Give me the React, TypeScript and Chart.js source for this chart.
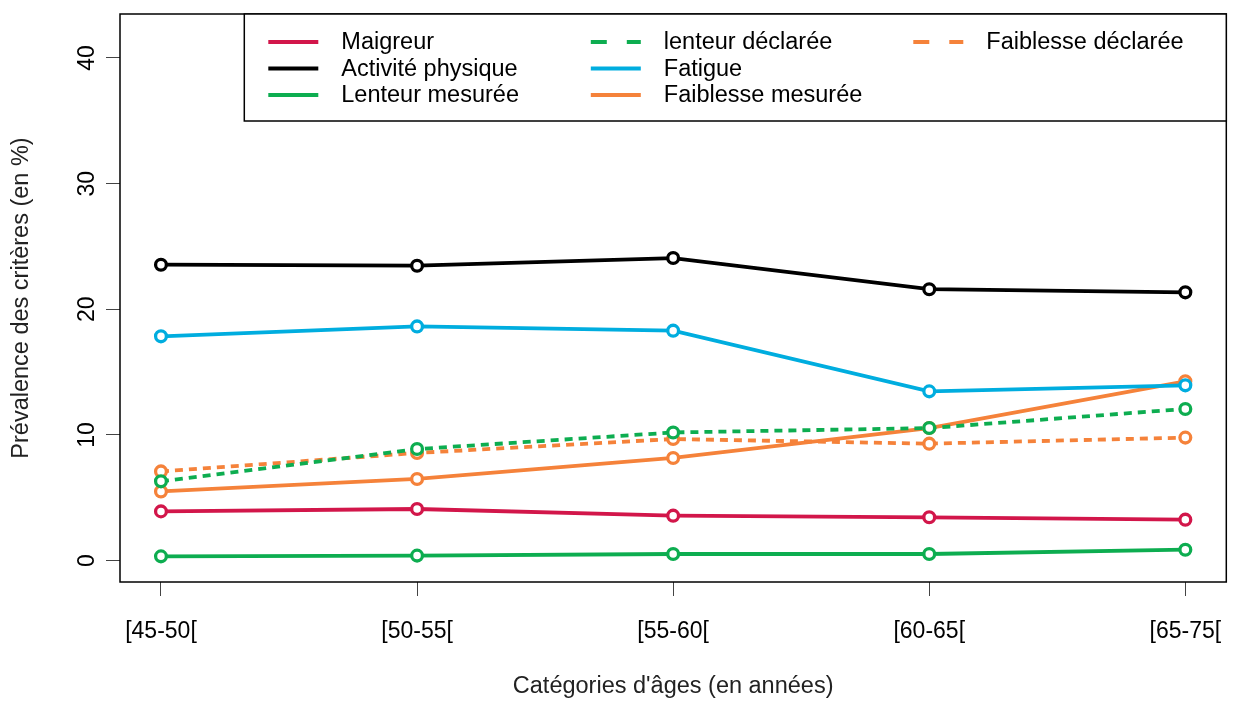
import React, { useEffect, useRef } from 'react';
import { Chart, registerables } from 'chart.js';

Chart.register(...registerables);

const categories = ['[45-50[', '[50-55[', '[55-60[', '[60-65[', '[65-75['];
const yTickValues = [0, 10, 20, 30, 40];

const maigreur = [3.92, 4.11, 3.58, 3.45, 3.26];
const activitePhysique = [23.55, 23.47, 24.08, 21.6, 21.35];
const lenteurMesuree = [0.34, 0.4, 0.53, 0.53, 0.87];
const lenteurDeclaree = [6.31, 8.88, 10.2, 10.55, 12.07];
const fatigue = [17.85, 18.64, 18.3, 13.47, 13.95];
const faiblesseMesuree = [5.51, 6.5, 8.17, 10.55, 14.27];
const faiblesseDeclaree = [7.1, 8.57, 9.68, 9.31, 9.79];

const seriesLabels = [
  'Maigreur',
  'Activité physique',
  'Lenteur mesurée',
  'lenteur déclarée',
  'Fatigue',
  'Faiblesse mesurée',
  'Faiblesse déclarée',
];
const seriesValues = [
  maigreur,
  activitePhysique,
  lenteurMesuree,
  lenteurDeclaree,
  fatigue,
  faiblesseMesuree,
  faiblesseDeclaree,
];
const seriesColors = ['#D2164A', '#000000', '#0DAD50', '#0DAD50', '#00ADDF', '#F5823A', '#F5823A'];
const seriesDashed = [false, false, false, true, false, false, true];

const FONT = "'Liberation Sans', Arial, Helvetica, sans-serif";

const boxPlugin = {
  id: 'rBox',
  afterDraw(chart: any) {
    const { ctx, chartArea: a } = chart;
    ctx.save();
    ctx.strokeStyle = '#000';
    ctx.lineWidth = 1.5;
    ctx.setLineDash([]);
    ctx.strokeRect(a.left, a.top, a.right - a.left, a.bottom - a.top);
    ctx.restore();
  },
};

const legendPlugin = {
  id: 'rLegend',
  afterDraw(chart: any) {
    const { ctx, chartArea: a } = chart;
    const boxW = 982;
    const boxH = 107;
    const left = a.right - boxW;
    const top = a.top;
    ctx.save();
    ctx.fillStyle = '#fff';
    ctx.fillRect(left, top, boxW, boxH);
    ctx.strokeStyle = '#000';
    ctx.lineWidth = 1.5;
    ctx.strokeRect(left, top, boxW, boxH);
    ctx.font = `23.5px ${FONT}`;
    ctx.textBaseline = 'middle';
    ctx.textAlign = 'left';
    const colW = 322.5;
    const rowH = 26.5;
    chart.data.datasets.forEach((ds: any, i: number) => {
      const col = Math.floor(i / 3);
      const row = i % 3;
      const x0 = left + 24 + col * colW;
      const y = top + 28 + row * rowH;
      ctx.strokeStyle = ds.borderColor;
      ctx.lineWidth = 4;
      ctx.lineCap = 'butt';
      ctx.setLineDash(ds.borderDash && ds.borderDash.length ? [16, 20] : []);
      ctx.beginPath();
      ctx.moveTo(x0, y);
      ctx.lineTo(x0 + 50, y);
      ctx.stroke();
      ctx.setLineDash([]);
      ctx.fillStyle = '#000';
      ctx.fillText(ds.label, x0 + 73, y + 1);
    });
    ctx.restore();
  },
};

export default function App() {
  const canvasRef = useRef<HTMLCanvasElement>(null);

  useEffect(() => {
    if (!canvasRef.current) return;
    const datasets = seriesLabels.map((label, i) => ({
      label,
      data: seriesValues[i].map((v, j) => ({ x: j, y: v })),
      borderColor: seriesColors[i],
      backgroundColor: seriesColors[i],
      pointBorderColor: seriesColors[i],
      pointBackgroundColor: '#ffffff',
      pointRadius: 5.4,
      pointBorderWidth: 3.3,
      borderWidth: 3.8,
      borderDash: seriesDashed[i] ? [8, 6] : [],
      tension: 0,
      fill: false,
    }));

    const tickFont = { family: FONT, size: 23 };
    const titleFont = { family: FONT, size: 23.5 };
    const chart = new Chart(canvasRef.current, {
      type: 'line',
      data: { datasets },
      plugins: [boxPlugin, legendPlugin],
      options: {
        animation: false,
        responsive: false,
        layout: { padding: { top: 14, right: 5, left: 0, bottom: 0 } },
        plugins: {
          legend: { display: false },
          tooltip: { enabled: false },
        },
        scales: {
          x: {
            type: 'linear',
            min: -0.16,
            max: 4.16,
            afterBuildTicks: (s: any) => {
              s.ticks = categories.map((_, i) => ({ value: i }));
            },
            afterFit: (s: any) => {
              s.height = 120;
              s.paddingLeft = 0;
              s.paddingRight = 0;
            },
            ticks: {
              callback: (v: any) => categories[v as number],
              font: tickFont,
              color: '#000',
              padding: 22,
              maxRotation: 0,
              minRotation: 0,
              autoSkip: false,
            },
            grid: {
              drawOnChartArea: false,
              drawTicks: true,
              tickLength: 14,
              color: '#444',
              lineWidth: 1,
            },
            border: { display: false },
            title: {
              display: true,
              text: "Catégories d'âges (en années)",
              font: titleFont,
              color: '#222',
              padding: { top: 0, bottom: 1 },
            },
          },
          y: {
            type: 'linear',
            min: -1.7,
            max: 43.5,
            afterBuildTicks: (s: any) => {
              s.ticks = yTickValues.map((v) => ({ value: v }));
            },
            afterFit: (s: any) => {
              s.width = 120;
              s.paddingTop = 0;
              s.paddingBottom = 0;
            },
            ticks: {
              font: tickFont,
              color: '#000',
              padding: 6,
              minRotation: 90,
              maxRotation: 90,
              crossAlign: 'center',
            },
            grid: {
              drawOnChartArea: false,
              drawTicks: true,
              tickLength: 14,
              color: '#444',
              lineWidth: 1,
            },
            border: { display: false },
            title: {
              display: true,
              text: 'Prévalence des critères (en %)',
              font: titleFont,
              color: '#222',
              padding: { top: 7, bottom: 0 },
            },
          },
        },
      },
    } as any);
    return () => chart.destroy();
  }, []);

  return (
    <div style={{ position: 'absolute', left: 0, top: 0, width: 1235, height: 702, background: '#fff' }}>
      <canvas ref={canvasRef} width={1235} height={702} />
    </div>
  );
}
